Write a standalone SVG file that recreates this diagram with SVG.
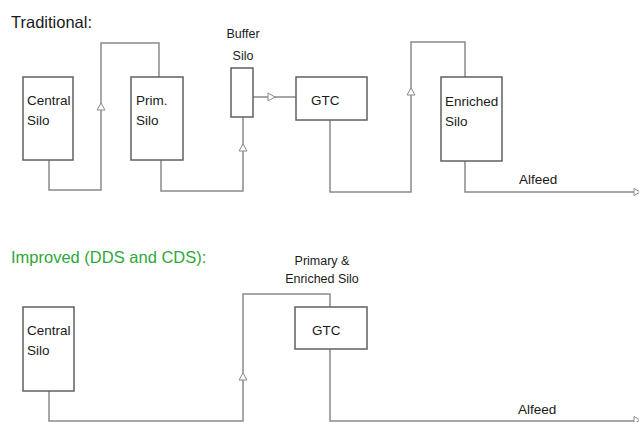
<svg xmlns="http://www.w3.org/2000/svg" width="639" height="422" viewBox="0 0 639 422">
<style>
.box{fill:#fff;stroke:#606060;stroke-width:1.5}
.ln{fill:none;stroke:#8a8a8a;stroke-width:1.5}
.arr{fill:#fff;stroke:#8a8a8a;stroke-width:1}
.t{font-family:"Liberation Sans",Arial,sans-serif;font-size:13.5px;fill:#1a1a1a}
.s{font-family:"Liberation Sans",Arial,sans-serif;font-size:12.5px;fill:#1a1a1a}
.h{font-family:"Liberation Sans",Arial,sans-serif;font-size:16.5px}
</style>
<rect width="639" height="422" fill="#fff"/>
<text class="h" x="11" y="28" fill="#1a1a1a">Traditional:</text>
<text class="h" x="11" y="263" fill="#2fa83a">Improved (DDS and CDS):</text>
<g id="connectors">
<polyline class="ln" points="49,160 49,190 101,190 101,43 159,43 159,77"/>
<polyline class="ln" points="161,160 161,191 243,191 243,117"/>
<polyline class="ln" points="253,97 296,97"/>
<polyline class="ln" points="330,120 330,192 411,192 411,42 465,42 465,77"/>
<polyline class="ln" points="465,161 465,192 636,192"/>
<polyline class="ln" points="49,391 49,421 243,421 243,294 330,294 330,307"/>
<polyline class="ln" points="330,349 330,421 636,421"/>
<polygon class="arr" points="101,103 97,110 105,110"/>
<polygon class="arr" points="243,144 239,151 247,151"/>
<polygon class="arr" points="411,88 407,95 415,95"/>
<polygon class="arr" points="243,373 239,380 247,380"/>
<polygon class="arr" points="275,97 268,93 268,101"/>
<polygon class="arr" points="640,192 634,188.5 634,195.5"/>
<polygon class="arr" points="640,420 634,416.5 634,423.5"/>
<text class="t" x="519" y="184">Alfeed</text>
<text class="t" x="518" y="414">Alfeed</text>
</g>
<g id="central1">
<rect class="box" x="23" y="77" width="50" height="83"/>
<text class="t" x="27" y="105">Central</text>
<text class="t" x="27" y="125">Silo</text>
</g>
<g id="prim">
<rect class="box" x="131" y="77" width="52" height="83"/>
<text class="t" x="136" y="105">Prim.</text>
<text class="t" x="136" y="125">Silo</text>
</g>
<g id="buffer">
<rect class="box" x="231" y="68" width="22" height="49"/>
<text class="s" x="243" y="38" text-anchor="middle">Buffer</text>
<text class="s" x="243" y="60" text-anchor="middle">Silo</text>
</g>
<g id="gtc1">
<rect class="box" x="296" y="77" width="71" height="43"/>
<text class="t" x="311" y="105">GTC</text>
</g>
<g id="enriched">
<rect class="box" x="441" y="77" width="61" height="84"/>
<text class="t" x="445" y="106">Enriched</text>
<text class="t" x="445" y="126">Silo</text>
</g>
<g id="central2">
<rect class="box" x="23" y="307" width="51" height="84"/>
<text class="t" x="27" y="335">Central</text>
<text class="t" x="27" y="355">Silo</text>
</g>
<g id="gtc2">
<rect class="box" x="295" y="307" width="72" height="42"/>
<text class="t" x="312" y="335">GTC</text>
<text class="s" x="322" y="265" text-anchor="middle">Primary &amp;</text>
<text class="s" x="322" y="283" text-anchor="middle">Enriched Silo</text>
</g>
</svg>
